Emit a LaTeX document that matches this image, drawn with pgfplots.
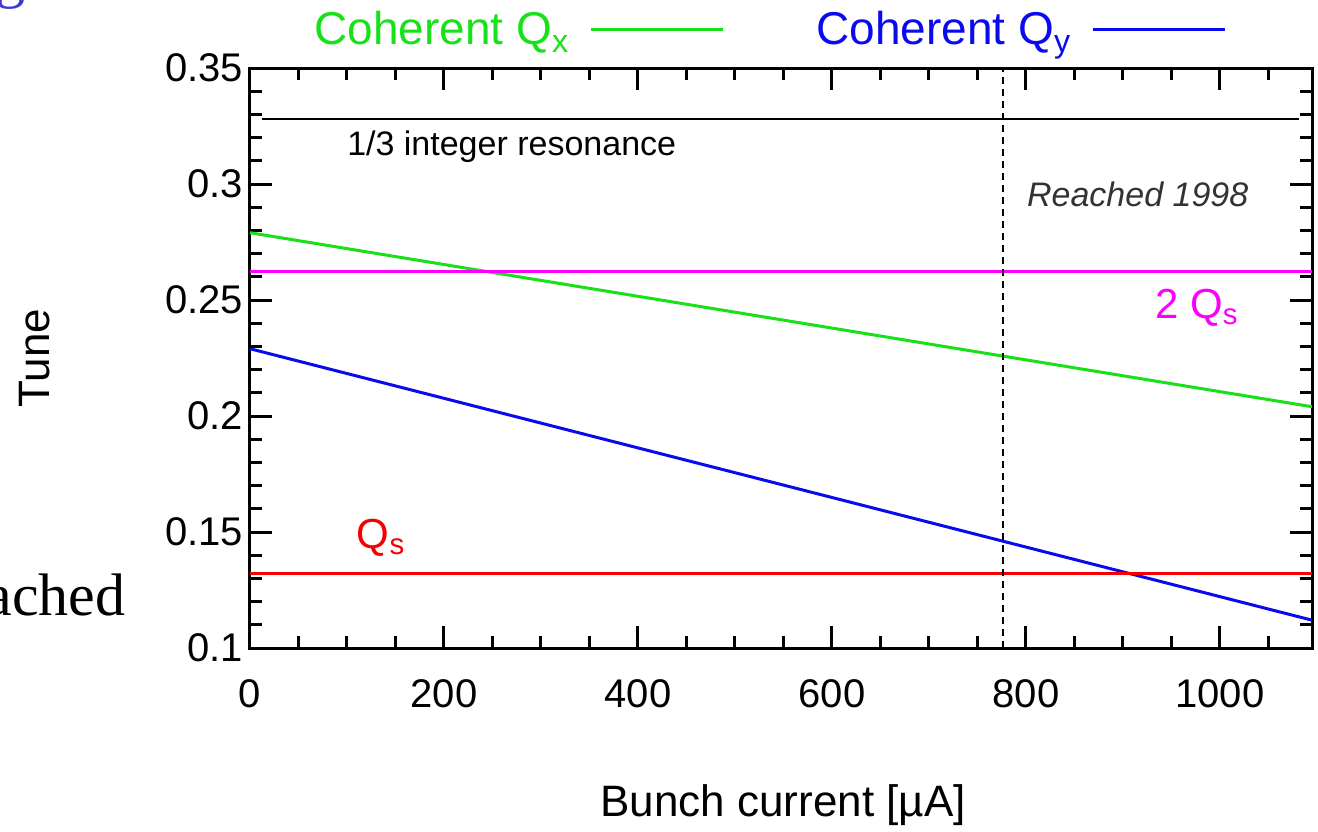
\documentclass[border=0pt]{standalone}
\usepackage{fontspec}
\setmainfont{Liberation Sans}
\newfontfamily\timesfont{Liberation Serif}
\usepackage{pgfplots}
\pgfplotsset{compat=1.18}
\definecolor{cgreen}{RGB}{25,225,25}
\definecolor{cblue}{RGB}{10,10,240}
\definecolor{cmag}{RGB}{250,0,250}
\definecolor{cred}{RGB}{245,0,0}
\definecolor{slideblue}{RGB}{60,60,210}
\begin{document}
\begin{tikzpicture}
\useasboundingbox (0,0) rectangle (659pt,-415.5pt);
\node[anchor=base east, text=slideblue, font=\timesfont\fontsize{30}{30}\selectfont, inner sep=0pt] at (13pt,2pt) {g};
\node[anchor=base east, text=black, font=\timesfont\fontsize{30}{30}\selectfont, inner sep=0pt] at (63pt,-307.5pt) {Reached};
\begin{axis}[
  at={(125pt,-324pt)}, anchor=south west,
  scale only axis, width=531pt, height=290pt,
  xmin=0, xmax=1095, ymin=0.1, ymax=0.35,
  xtick={0,200,400,600,800,1000},
  minor xtick={50,100,150,250,300,350,450,500,550,650,700,750,850,900,950,1050},
  ytick={0.1,0.15,0.2,0.25,0.3,0.35},
  minor ytick={0.11,0.12,0.13,0.14,0.16,0.17,0.18,0.19,0.21,0.22,0.23,0.24,0.26,0.27,0.28,0.29,0.31,0.32,0.33,0.34},
  tick align=inside, tick pos=both,
  major tick length=11pt, minor tick length=6pt,
  axis line style={line width=1.5pt},
  every tick/.style={black, line width=1.5pt},
  /pgf/number format/assume math mode=true,
  /pgf/number format/1000 sep={},
  tick label style={font=\fontsize{20}{20}\selectfont},
  xticklabel style={yshift=-12pt},
  yticklabel style={/pgf/number format/fixed},
  xlabel={Bunch current [µA]},
  ylabel={Tune},
  every axis x label/.style={at={(axis description cs:0.502,-0.2707)}, anchor=center, font=\fontsize{22}{22}\selectfont},
  every axis y label/.style={at={(axis description cs:-0.2024,0.5)}, rotate=90, anchor=center, font=\fontsize{22}{22}\selectfont},
  legend style={draw=none, fill=none, at={(0.488,1)}, anchor=south, yshift=6pt,
    legend columns=2, font=\fontsize{23}{23}\selectfont,
    /tikz/every odd column/.append style={column sep=8pt},
    /tikz/every even column/.append style={column sep=44pt}},
  legend plot pos=right,
  legend image code/.code={\draw[#1, line width=1.5pt] (0pt,0pt) -- (66pt,0pt);},
  clip=false,
]
\addplot[cgreen, line width=1.5pt] coordinates {(0,0.2790) (1095,0.2040)};
\addlegendentry{\textcolor{cgreen}{Coherent Q\textsubscript{x}}}
\addplot[cblue, line width=1.5pt] coordinates {(0,0.2290) (1095,0.1120)};
\addlegendentry{\textcolor{cblue}{Coherent Q\textsubscript{y}}}
\addplot[black, line width=1.3pt, forget plot] coordinates {(12,0.328) (1082,0.328)};
\addplot[cmag, line width=1.5pt, forget plot] coordinates {(0,0.2625) (1095,0.2625)};
\addplot[cred, line width=1.5pt, forget plot] coordinates {(0,0.132) (1095,0.132)};
\addplot[black, line width=1pt, dash pattern=on 3.5pt off 2.5pt, forget plot] coordinates {(776,0.1) (776,0.35)};
\node[anchor=base west, font=\fontsize{17}{17}\selectfont] at (axis cs:93,0.3121) {1/3 integer resonance};
\node[anchor=base west, font=\itshape\fontsize{17}{17}\selectfont, text=black!80] at (axis cs:794,0.2901) {Reached 1998};
\node[anchor=base west, font=\fontsize{21}{21}\selectfont, text=cmag] at (axis cs:926,0.2422) {2 Q\textsubscript{s}};
\node[anchor=base west, font=\fontsize{21}{21}\selectfont, text=cred] at (axis cs:103,0.1431) {Q\textsubscript{s}};
\end{axis}
\end{tikzpicture}
\end{document}
